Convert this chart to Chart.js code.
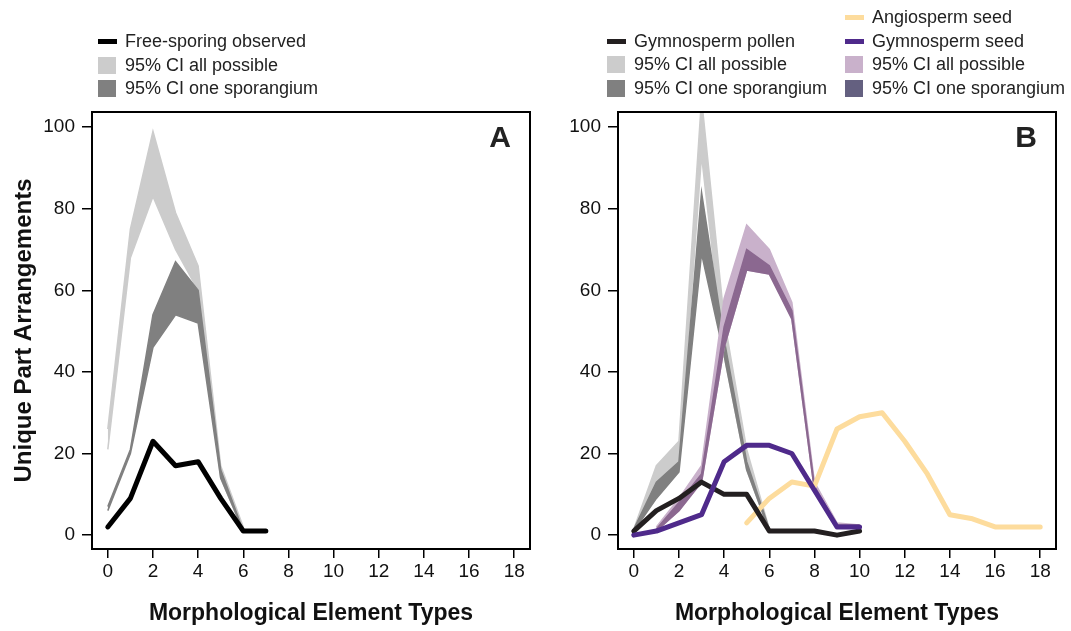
<!DOCTYPE html>
<html>
<head>
<meta charset="utf-8">
<script src="https://cdn.jsdelivr.net/npm/chart.js@4.4.1/dist/chart.umd.min.js"></script>
<style>
  body { margin: 0; background: #fff; font-family: "Liberation Sans", Arial, sans-serif; }
  #wrap { position: relative; width: 1071px; height: 631px; overflow: hidden; }
  canvas { position: absolute; top: 0; }
  #chartA { left: 0; }
  #chartB { left: 545px; }
  .item { position: absolute; white-space: nowrap; font-size: 18px; line-height: 20px; color: #222; }
  .sw { position: absolute; }
  .panel { position: absolute; width: 40px; text-align: center; font-weight: bold; font-size: 30px; line-height: 30px; color: #222; }
</style>
</head>
<body>
<div id="wrap">
  <canvas id="chartA" width="545" height="631"></canvas>
  <canvas id="chartB" width="526" height="631"></canvas>
</div>
<script>
// panel A - free-sporing
const xObsA = [0, 1, 2, 3, 4, 5, 6, 7];
const freeSporingObserved = [2, 9, 23, 17, 18, 9, 1, 1];
const xBandA = [0, 1, 2, 3, 4, 5, 6];
const allPossibleLowA = [21, 68, 83, 70, 60, 14, 1];
const allPossibleHighA = [26, 75, 99, 79, 66, 17, 2];
const oneSporangiumLowA = [6, 20, 46, 54, 52, 14, 1];
const oneSporangiumHighA = [7, 21, 54, 67, 60, 16, 1];

// panel B - seed plants
const xGymno = [0, 1, 2, 3, 4, 5, 6, 7, 8, 9, 10];
const gymnospermPollen = [1, 6, 9, 13, 10, 10, 1, 1, 1, 0, 1];
const gymnospermSeed = [0, 1, 3, 5, 18, 22, 22, 20, 11, 2, 2];
const xAngio = [5, 6, 7, 8, 9, 10, 11, 12, 13, 14, 15, 16, 17, 18];
const angiospermSeed = [3, 9, 13, 12, 26, 29, 30, 23, 15, 5, 4, 2, 2, 2];

const xPollenBand = [0, 1, 2, 3, 4, 5, 6];
const pollenAllLow = [1, 10, 17, 93, 44, 16, 1];
const pollenAllHigh = [1.5, 17, 23, 107, 53, 21, 1.5];
const pollenOneLow = [1, 9, 15.5, 69, 44, 16, 1];
const pollenOneHigh = [1.5, 13, 18, 84, 48, 18, 1.5];

const xSeedBand = [1, 2, 3, 4, 5, 6, 7, 8, 9, 10];
const seedAllLow = [1, 6, 13, 46, 65, 64, 53, 11, 2, 2];
const seedAllHigh = [2, 9, 17, 58, 76, 70, 57, 13, 3, 2.5];
const seedOneLow = [1, 6, 13, 46, 65, 64, 53, 11, 2, 2];
const seedOneHigh = [1.5, 8, 15, 51, 70, 66, 55, 12, 2.5, 2.5];

const xTicks = [0, 2, 4, 6, 8, 10, 12, 14, 16, 18];
const yTicks = [0, 20, 40, 60, 80, 100];

const pts = (xs, ys) => xs.map((x, i) => ({ x: x, y: ys[i] }));

function band(xs, lo, hi, color, order) {
  return [
    { data: pts(xs, lo), borderColor: color, borderWidth: 1.5, fill: false, order: order },
    { data: pts(xs, hi), borderColor: color, borderWidth: 1.5, backgroundColor: color, fill: '-1', order: order }
  ];
}

function line(xs, ys, color, order) {
  return { data: pts(xs, ys), borderColor: color, borderWidth: 5, fill: false, order: order,
           borderCapStyle: 'round', borderJoinStyle: 'round' };
}

const frame = {
  id: 'frame',
  afterDatasetsDraw(chart) {
    const { ctx, chartArea: a } = chart;
    ctx.save();
    ctx.strokeStyle = '#000';
    ctx.lineWidth = 2;
    ctx.strokeRect(a.left, a.top, a.right - a.left, a.bottom - a.top);
    ctx.restore();
  }
};

function makeOptions(yWidth, showYTitle) {
  return {
    responsive: false,
    animation: false,
    layout: { padding: { top: 112, right: 15, left: 0, bottom: 0 } },
    plugins: { legend: { display: false }, tooltip: { enabled: false } },
    elements: { point: { radius: 0 }, line: { tension: 0 } },
    scales: {
      x: {
        type: 'linear', min: -0.7, max: 18.7,
        afterBuildTicks: s => { s.ticks = xTicks.map(v => ({ value: v })); },
        ticks: { color: '#111', font: { size: 19 }, padding: 2, maxRotation: 0 },
        grid: { drawOnChartArea: false, tickLength: 9, color: '#000', lineWidth: 1.5 },
        border: { display: false },
        title: { display: true, text: 'Morphological Element Types', color: '#111',
                 font: { size: 23, weight: 'bold' }, padding: { top: 0, bottom: 4 } },
        afterFit: s => { s.height = 82; }
      },
      y: {
        type: 'linear', min: -3.4, max: 103.7,
        afterBuildTicks: s => { s.ticks = yTicks.map(v => ({ value: v })); },
        ticks: { color: '#111', font: { size: 19 }, padding: 7 },
        grid: { drawOnChartArea: false, tickLength: 10, color: '#000', lineWidth: 1.5 },
        border: { display: false },
        title: { display: showYTitle, text: 'Unique Part Arrangements', color: '#111',
                 font: { size: 24, weight: 'bold' }, padding: { top: 10, bottom: 0 } },
        afterFit: s => { s.width = yWidth; }
      }
    }
  };
}

new Chart(document.getElementById('chartA'), {
  type: 'line',
  data: {
    datasets: [
      line(xObsA, freeSporingObserved, '#000000', 0),
      ...band(xBandA, oneSporangiumLowA, oneSporangiumHighA, '#808080', 1),
      ...band(xBandA, allPossibleLowA, allPossibleHighA, '#cccccc', 2)
    ]
  },
  options: makeOptions(92, true),
  plugins: [frame]
});

new Chart(document.getElementById('chartB'), {
  type: 'line',
  data: {
    datasets: [
      line(xGymno, gymnospermSeed, '#4f2a8b', 0),
      line(xGymno, gymnospermPollen, '#231f20', 1),
      line(xAngio, angiospermSeed, '#fddc9d', 2),
      ...band(xSeedBand, seedOneLow, seedOneHigh, '#8b6890', 3),
      ...band(xSeedBand, seedAllLow, seedAllHigh, '#c9b1cb', 4),
      ...band(xPollenBand, pollenOneLow, pollenOneHigh, '#808080', 5),
      ...band(xPollenBand, pollenAllLow, pollenAllHigh, '#cccccc', 6)
    ]
  },
  options: makeOptions(73, false),
  plugins: [frame]
});

// legends and panel letters
const wrap = document.getElementById('wrap');
function legendItem(x, cy, kind, color, text) {
  const sw = document.createElement('div');
  sw.className = 'sw';
  sw.style.left = x + 'px';
  sw.style.background = color;
  if (kind === 'line') {
    sw.style.top = (cy - 2.5) + 'px'; sw.style.width = '19px'; sw.style.height = '5px';
  } else {
    sw.style.top = (cy - 8.5) + 'px'; sw.style.width = '18px'; sw.style.height = '17px';
  }
  wrap.appendChild(sw);
  const t = document.createElement('div');
  t.className = 'item';
  t.style.left = (x + 27) + 'px';
  t.style.top = (cy - 10) + 'px';
  t.textContent = text;
  wrap.appendChild(t);
}

legendItem(98, 41, 'line', '#000000', 'Free-sporing observed');
legendItem(98, 65, 'box', '#cccccc', '95% CI all possible');
legendItem(98, 88, 'box', '#808080', '95% CI one sporangium');

legendItem(607, 41, 'line', '#231f20', 'Gymnosperm pollen');
legendItem(607, 64, 'box', '#cccccc', '95% CI all possible');
legendItem(607, 88, 'box', '#808080', '95% CI one sporangium');

legendItem(845, 17, 'line', '#fddc9d', 'Angiosperm seed');
legendItem(845, 41, 'line', '#4f2a8b', 'Gymnosperm seed');
legendItem(845, 64, 'box', '#c9b1cb', '95% CI all possible');
legendItem(845, 88, 'box', '#646080', '95% CI one sporangium');

function panelLetter(cx, cy, text) {
  const d = document.createElement('div');
  d.className = 'panel';
  d.style.left = (cx - 20) + 'px';
  d.style.top = (cy - 14.5) + 'px';
  d.textContent = text;
  wrap.appendChild(d);
}
panelLetter(500, 136, 'A');
panelLetter(1026, 136, 'B');
</script>
</body>
</html>
